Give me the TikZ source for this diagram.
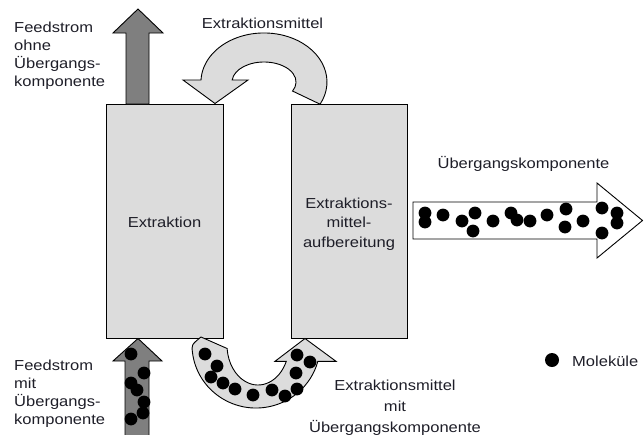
\documentclass[tikz,border=0pt]{standalone}
\usepackage{fontspec}
\setmainfont{Liberation Sans}
\usepackage{graphicx}
\definecolor{unitgray}{HTML}{DCDCDC}
\definecolor{feedgray}{HTML}{7F7F7F}
\definecolor{txtcol}{HTML}{1E1E28}
% slightly widened text block (one or more lines)
\newcommand\wtxt[2][c]{\scalebox{1.14}[1]{\begin{tabular}[t]{@{}#1@{}}#2\end{tabular}}}
\begin{document}
\begin{tikzpicture}[x=1pt,y=-1pt,
  outl/.style={draw=black, line width=0.9pt, line join=miter},
  unit/.style={outl, fill=unitgray, inner sep=0pt},
  feed/.style={outl, fill=feedgray},
  ring/.style={outl, fill=unitgray},
  product/.style={outl, fill=white},
  lbl/.style={inner sep=0pt, text=txtcol, font=\fontsize{14.5}{18}\selectfont},
  molecule/.style={fill=black}]
\useasboundingbox (0,0) rectangle (644,434);

% process units
\node[unit, minimum width=117pt, minimum height=234pt] (extr) at (164.5,221) {};
\node[unit, minimum width=116pt, minimum height=234pt] (regen) at (349,221) {};
\node[lbl, anchor=base] (extrtxt) at (164.5,227) {\wtxt{Extraktion}};
\node[lbl, font=\fontsize{14.5}{19.5}\selectfont, anchor=base] (regentxt) at (349,208)
  {\wtxt{Extraktions-\\mittel-\\aufbereitung}};

% raffinate leaving at the top
\draw[feed] (126,104) -- (126,33) -- (113,33) -- (138,9) -- (163,33) -- (149,33) -- (149,104) -- cycle;
% feed entering at the bottom
\draw[feed] (125,437) -- (125,361) -- (113,361) -- (138,338.5) -- (162,361) -- (149,361) -- (149,437) -- cycle;

% regenerated solvent back to the extractor
\draw[ring] (320.1,104.2) arc[start angle=27, end angle=-177.7, x radius=63, y radius=49]
  -- (183,80) -- (215,103.5) -- (248,80) -- (232.2,80)
  arc[start angle=-174.3, end angle=27, x radius=32, y radius=20] -- cycle;

% loaded solvent to the regeneration
\draw[ring] (201,337) .. controls (191.5,344.7) .. (192.5,352.7)
  arc[start angle=173, end angle=15, x radius=64, y radius=63]
  -- (336,361.3) -- (305,338.5) -- (275,361.3) -- (286.3,361.3)
  arc[start angle=24.05, end angle=175, x radius=31, y radius=40] -- cycle;

% recovered transfer component
\draw[product] (413,202) -- (597,202) -- (597,183) -- (642.5,220.5) -- (597,258) -- (597,239) -- (413,239) -- cycle;

% molecules
\foreach \p in {(131,354),(144,373),(131,383),(137,390),(144,402),(143,413),(131,419)}
  \fill[molecule] \p circle[radius=6.4];
\foreach \p in {(205,354),(217,366),(211,377),(223,383),(235,389),(253,395),(272,390),
                (285,396),(297,389),(296,373),(297,355),(310,362)}
  \fill[molecule] \p circle[radius=6.4];
\foreach \p in {(425,213),(425,222),(443,215),(462,221),(475,213),(473,231),(493,221),
                (511,213),(517,220),(530,221),(547,215),(566,209),(565,227),(583,221),
                (602,208),(617,213),(617,223),(602,233)}
  \fill[molecule] \p circle[radius=6.4];

% labels
\node[lbl, anchor=base west] (rafftxt) at (14,32) {\wtxt[l]{Feedstrom\\ohne\\Übergangs-\\komponente}};
\node[lbl, anchor=base west] (feedtxt) at (14,370) {\wtxt[l]{Feedstrom\\mit\\Übergangs-\\komponente}};
\node[lbl, anchor=base] (solvtxt) at (262.5,28) {\wtxt{Extraktionsmittel}};
\node[lbl, anchor=base] (prodtxt) at (523.5,168) {\wtxt{Übergangskomponente}};
\node[lbl, font=\fontsize{14.5}{21}\selectfont, anchor=base] (loadtxt) at (395,390)
  {\wtxt{Extraktionsmittel\\mit\\Übergangskomponente}};

% legend
\fill[molecule] (552,360) circle[radius=7];
\node[lbl, anchor=base west] (legtxt) at (572,366) {\wtxt[l]{Moleküle}};
\end{tikzpicture}
\end{document}
